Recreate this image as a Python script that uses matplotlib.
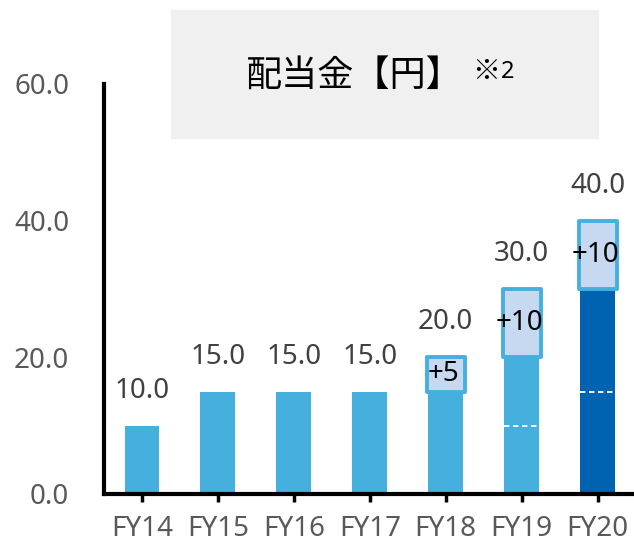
import numpy as np
import matplotlib.pyplot as plt
from matplotlib.patches import Rectangle

plt.rcParams['font.family'] = ['Noto Sans', 'Noto Sans CJK JP', 'DejaVu Sans']

# data
years = ["FY14", "FY15", "FY16", "FY17", "FY18", "FY19", "FY20"]
base = [10.0, 15.0, 15.0, 15.0, 15.0, 20.0, 30.0]
increase = [0, 0, 0, 0, 5, 10, 10]
totals = [10.0, 15.0, 15.0, 15.0, 20.0, 30.0, 40.0]
half_marks = [None, None, None, None, None, 10.0, 15.0]   # dashed white lines
bar_colors = ["#45b0de"] * 6 + ["#0063b1"]

fig = plt.figure(figsize=(6.34, 5.45), dpi=100)
ax = fig.add_axes([104/634, 51/545, 530/634, 410/545])
ax.set_facecolor('none')

# title box
fig.patches.append(Rectangle((171/634, 1 - 138/545), 427/634, 128/545,
                             transform=fig.transFigure, color='#f0f0f0', zorder=0))
fig.text(354/634, 1 - 76/545, "配当金【円】", fontsize=26, ha='center', va='center',
         color='black', family=['Noto Sans CJK JP'])
fig.text(486/634, 1 - 72/545, "※", fontsize=20, ha='center', va='center',
         color='black', family=['Noto Sans CJK JP'])
fig.text(501/634, 1 - 72/545, "2", fontsize=17, ha='left', va='center', color='black')

x = np.arange(len(years))
ax.bar(x, base, width=0.46, color=bar_colors, zorder=2)

# increase boxes
for i in range(len(years)):
    if increase[i] > 0:
        ax.bar(x[i], increase[i], bottom=base[i], width=0.5, color='#c6d9f1',
               edgecolor='#45b0de', linewidth=2.8, joinstyle='round', zorder=3)
        ax.text(x[i] - 0.03, base[i] + increase[i] / 2, "+%d" % increase[i],
                fontsize=20, ha='center', va='center', color='black', zorder=4)
    if half_marks[i] is not None:
        ax.plot([x[i] - 0.23, x[i] + 0.23], [half_marks[i]] * 2, color='white',
                lw=1.3, ls=(0, (3, 2)), zorder=3)

# value labels
for i in range(len(years)):
    ax.text(x[i], totals[i] + 5.1, "%.1f" % totals[i], fontsize=20,
            ha='center', va='center', color='#404040')

ax.set_xlim(-0.5, 6.48)
ax.set_ylim(0, 60)
ax.set_yticks([0, 20, 40, 60])
ax.set_yticklabels(["0.0", "20.0", "40.0", "60.0"])
ax.set_xticks(x)
ax.set_xticklabels(years)

for s in ['top', 'right']:
    ax.spines[s].set_visible(False)
for s in ['left', 'bottom']:
    ax.spines[s].set_linewidth(3)
    ax.spines[s].set_capstyle('projecting')

ax.tick_params(axis='y', length=0, pad=25, labelsize=20, labelcolor='#595959')
ax.tick_params(axis='x', length=6, width=2.5, pad=9, labelsize=20, labelcolor='#595959')

fig.savefig("out.png", dpi=100)
